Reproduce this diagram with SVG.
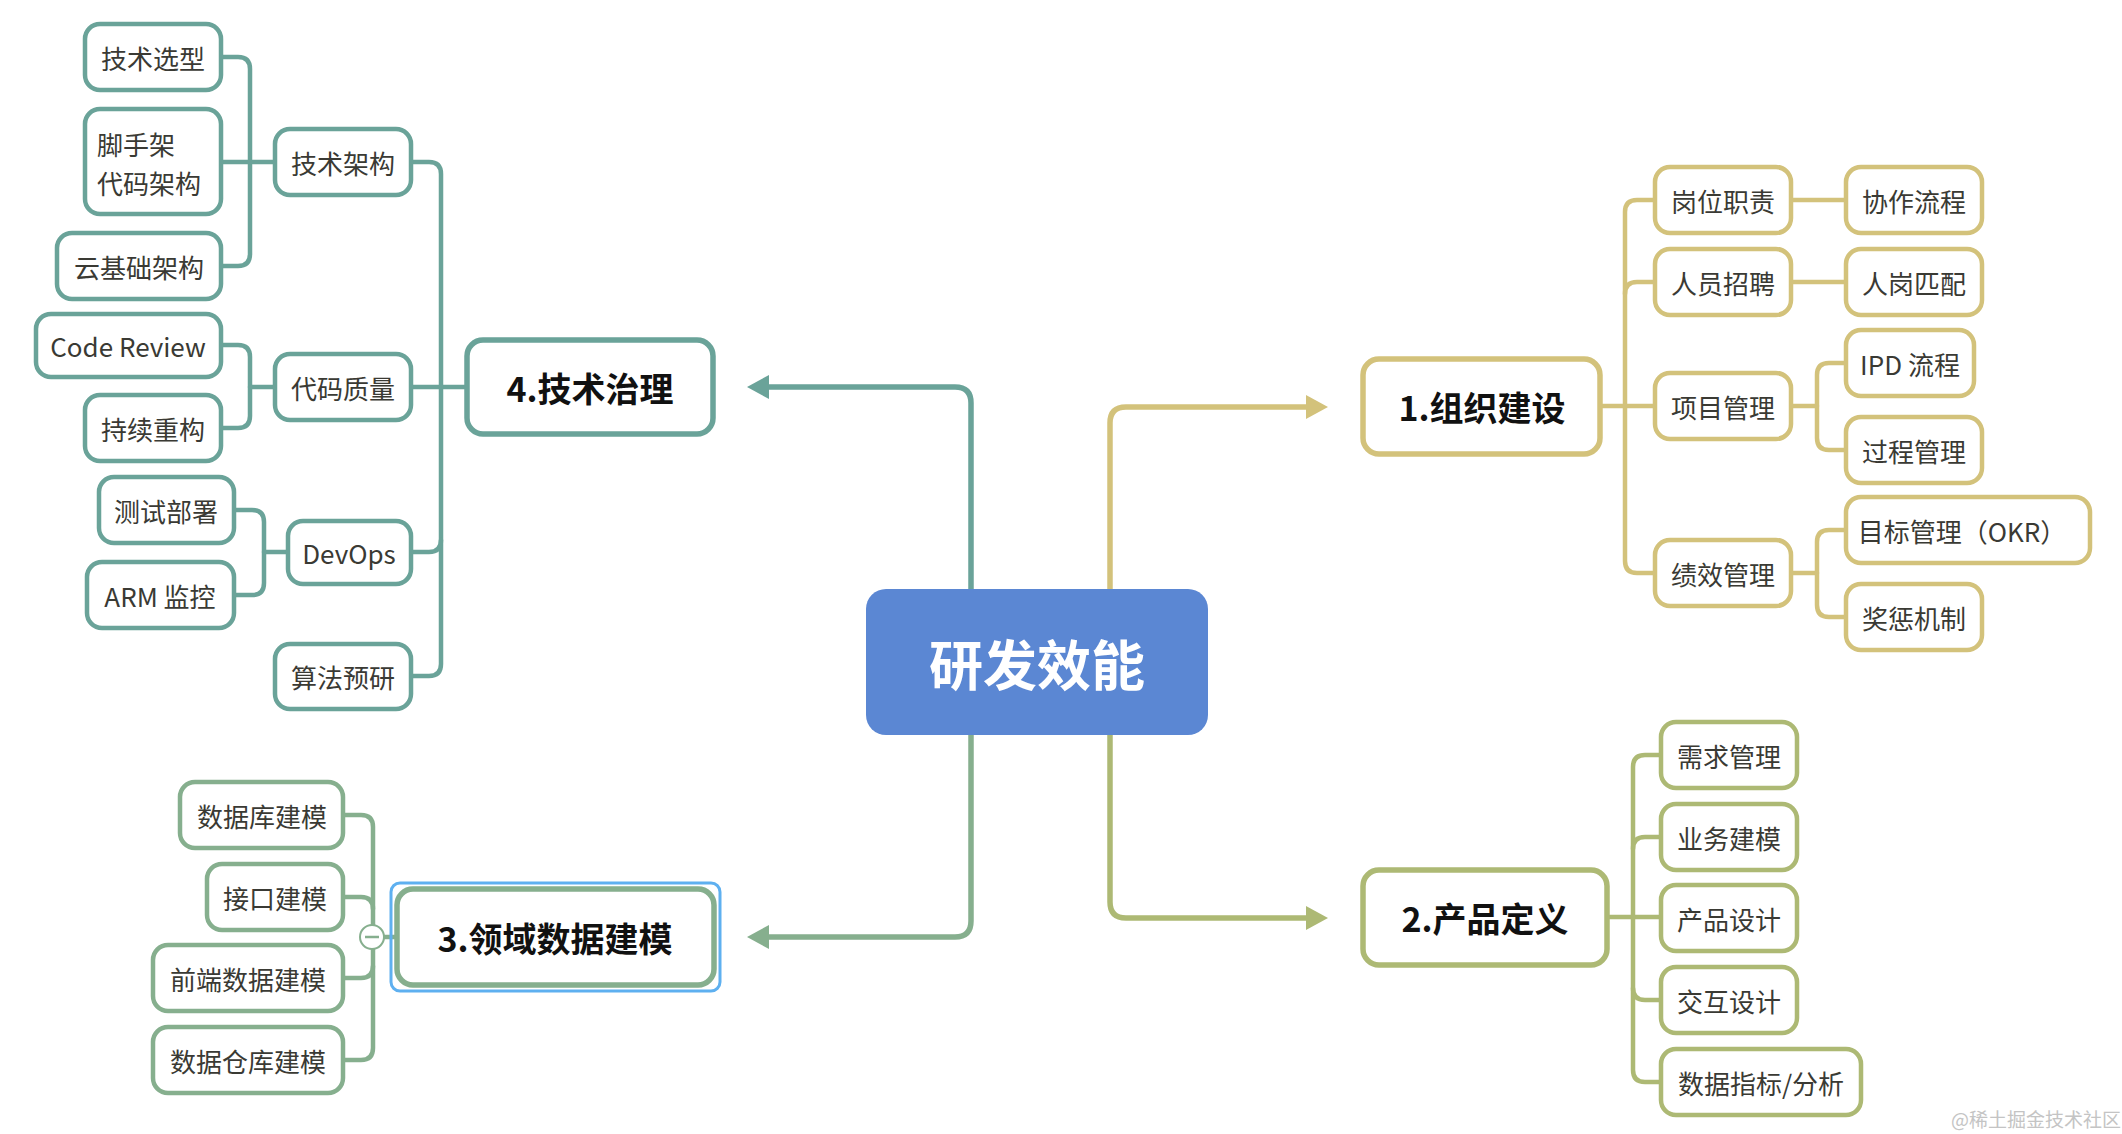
<svg xmlns="http://www.w3.org/2000/svg" width="2122" height="1134" viewBox="0 0 2122 1134">
<style>
text{font-family:"Noto Sans CJK SC","Noto Sans",sans-serif;text-anchor:middle;dominant-baseline:central}
.leaf{fill:#fff;stroke-width:4.5}
.leaf-t{font-size:26px;fill:#3a3a34}
.main{fill:#fff;stroke-width:5.5}
.main-t{font-size:34px;font-weight:bold;fill:#111}
.ln{fill:none;stroke-width:4.5;stroke-linecap:round}
.trunk{fill:none;stroke-width:5.5}
.teal{stroke:#6aa399}
.green{stroke:#86af8e}
.yellow{stroke:#d3c27b}
.olive{stroke:#adb974}
</style>
<defs>
<marker id="aTeal" markerUnits="userSpaceOnUse" markerWidth="24" markerHeight="26" refX="0" refY="12" orient="auto" viewBox="0 0 24 24"><path d="M0,0 L22,12 L0,24 z" fill="#6aa399"/></marker>
<marker id="aGreen" markerUnits="userSpaceOnUse" markerWidth="24" markerHeight="26" refX="0" refY="12" orient="auto" viewBox="0 0 24 24"><path d="M0,0 L22,12 L0,24 z" fill="#86af8e"/></marker>
<marker id="aYellow" markerUnits="userSpaceOnUse" markerWidth="24" markerHeight="26" refX="0" refY="12" orient="auto" viewBox="0 0 24 24"><path d="M0,0 L22,12 L0,24 z" fill="#d3c27b"/></marker>
<marker id="aOlive" markerUnits="userSpaceOnUse" markerWidth="24" markerHeight="26" refX="0" refY="12" orient="auto" viewBox="0 0 24 24"><path d="M0,0 L22,12 L0,24 z" fill="#adb974"/></marker>
</defs>
<rect width="2122" height="1134" fill="#fff"/>

<g id="connectors">
<!-- trunk -->
<path class="trunk teal" d="M971,589 V403 Q971,387 955,387 H769" marker-end="url(#aTeal)"/>
<path class="trunk green" d="M971,735 V921 Q971,937 955,937 H769" marker-end="url(#aGreen)"/>
<path class="trunk yellow" d="M1110,589 V423 Q1110,407 1126,407 H1306" marker-end="url(#aYellow)"/>
<path class="trunk olive" d="M1110,735 V902 Q1110,918 1126,918 H1306" marker-end="url(#aOlive)"/>
<!-- branch 4 -->
<path class="ln teal" d="M411,387 H467"/>
<path class="ln teal" d="M411,162 H429 Q441,162 441,174 V664 Q441,676 429,676 H411"/>
<path class="ln teal" d="M411,552 H429 Q441,552 441,540"/>
<path class="ln teal" d="M221,57 H238 Q250,57 250,69 V254 Q250,266 238,266 H221"/>
<path class="ln teal" d="M221,162 H275"/>
<path class="ln teal" d="M221,345 H238 Q250,345 250,357 V416 Q250,428 238,428 H221"/>
<path class="ln teal" d="M250,387 H275"/>
<path class="ln teal" d="M234,510 H252 Q264,510 264,522 V583 Q264,595 252,595 H234"/>
<path class="ln teal" d="M264,552 H288"/>
<!-- branch 3 -->
<path class="ln green" d="M343,815 H361 Q373,815 373,827 V1048 Q373,1060 361,1060 H343"/>
<path class="ln green" d="M343,897 H361 Q373,897 373,909"/>
<path class="ln green" d="M343,978 H361 Q373,978 373,966"/>
<path class="ln green" d="M384,937 H397"/>
<!-- branch 1 -->
<path class="ln yellow" d="M1600,406 H1655"/>
<path class="ln yellow" d="M1655,200 H1637 Q1625,200 1625,212 V561 Q1625,573 1637,573 H1655"/>
<path class="ln yellow" d="M1655,282 H1637 Q1625,282 1625,294"/>
<path class="ln yellow" d="M1791,200 H1846"/>
<path class="ln yellow" d="M1791,282 H1846"/>
<path class="ln yellow" d="M1791,406 H1817"/>
<path class="ln yellow" d="M1846,363 H1829 Q1817,363 1817,375 V438 Q1817,450 1829,450 H1846"/>
<path class="ln yellow" d="M1791,573 H1817"/>
<path class="ln yellow" d="M1846,530 H1829 Q1817,530 1817,542 V605 Q1817,617 1829,617 H1846"/>
<!-- branch 2 -->
<path class="ln olive" d="M1607,917 H1661"/>
<path class="ln olive" d="M1661,755 H1645 Q1633,755 1633,767 V1070 Q1633,1082 1645,1082 H1661"/>
<path class="ln olive" d="M1661,837 H1645 Q1633,837 1633,849"/>
<path class="ln olive" d="M1661,1000 H1645 Q1633,1000 1633,988"/>
</g>

<g id="root">
<rect x="866" y="589" width="342" height="146" rx="20" fill="#5b87d3"/>
<text x="1037" y="662" font-size="54" font-weight="bold" fill="#fff">研发效能</text>
</g>

<!-- Branch 4 -->
<g id="n4"><rect class="main teal" x="467" y="340" width="246" height="94" rx="16"/><text class="main-t" x="590" y="387">4.技术治理</text></g>
<g id="n4-1"><rect class="leaf teal" x="275" y="129" width="136" height="66" rx="15"/><text class="leaf-t" x="343" y="162">技术架构</text></g>
<g id="n4-1-1"><rect class="leaf teal" x="85" y="24" width="136" height="66" rx="15"/><text class="leaf-t" x="153" y="57">技术选型</text></g>
<g id="n4-1-2"><rect class="leaf teal" x="85" y="109" width="136" height="105" rx="15"/><text class="leaf-t" x="97" y="143" style="text-anchor:start">脚手架</text><text class="leaf-t" x="97" y="182" style="text-anchor:start">代码架构</text></g>
<g id="n4-1-3"><rect class="leaf teal" x="57" y="233" width="164" height="66" rx="15"/><text class="leaf-t" x="139" y="266">云基础架构</text></g>
<g id="n4-2"><rect class="leaf teal" x="275" y="354" width="136" height="66" rx="15"/><text class="leaf-t" x="343" y="387">代码质量</text></g>
<g id="n4-2-1"><rect class="leaf teal" x="36" y="314" width="185" height="63" rx="15"/><text class="leaf-t" x="128" y="345">Code Review</text></g>
<g id="n4-2-2"><rect class="leaf teal" x="85" y="395" width="136" height="66" rx="15"/><text class="leaf-t" x="153" y="428">持续重构</text></g>
<g id="n4-3"><rect class="leaf teal" x="288" y="521" width="123" height="63" rx="15"/><text class="leaf-t" x="349" y="552">DevOps</text></g>
<g id="n4-3-1"><rect class="leaf teal" x="99" y="477" width="135" height="66" rx="15"/><text class="leaf-t" x="166" y="510">测试部署</text></g>
<g id="n4-3-2"><rect class="leaf teal" x="87" y="562" width="147" height="66" rx="15"/><text class="leaf-t" x="160" y="595">ARM 监控</text></g>
<g id="n4-4"><rect class="leaf teal" x="275" y="644" width="136" height="65" rx="15"/><text class="leaf-t" x="343" y="676">算法预研</text></g>

<!-- Branch 3 -->
<g id="n3">
<rect x="391" y="883" width="329" height="108" rx="9" fill="none" stroke="#5eb0f0" stroke-width="3"/>
<rect class="main green" x="397" y="889" width="317" height="96" rx="16"/>
<text class="main-t" x="555" y="937">3.领域数据建模</text>
<circle cx="372" cy="937" r="12" fill="#fff" stroke="#86af8e" stroke-width="2"/>
<line x1="365" y1="937" x2="379" y2="937" stroke="#86af8e" stroke-width="2.5"/>
</g>
<g id="n3-1"><rect class="leaf green" x="180" y="782" width="163" height="66" rx="15"/><text class="leaf-t" x="262" y="815">数据库建模</text></g>
<g id="n3-2"><rect class="leaf green" x="207" y="864" width="136" height="66" rx="15"/><text class="leaf-t" x="275" y="897">接口建模</text></g>
<g id="n3-3"><rect class="leaf green" x="153" y="945" width="190" height="66" rx="15"/><text class="leaf-t" x="248" y="978">前端数据建模</text></g>
<g id="n3-4"><rect class="leaf green" x="153" y="1027" width="190" height="66" rx="15"/><text class="leaf-t" x="248" y="1060">数据仓库建模</text></g>

<!-- Branch 1 -->
<g id="n1"><rect class="main yellow" x="1363" y="359" width="237" height="95" rx="16"/><text class="main-t" x="1482" y="406">1.组织建设</text></g>
<g id="n1-1"><rect class="leaf yellow" x="1655" y="167" width="136" height="66" rx="15"/><text class="leaf-t" x="1723" y="200">岗位职责</text></g>
<g id="n1-1-1"><rect class="leaf yellow" x="1846" y="167" width="136" height="66" rx="15"/><text class="leaf-t" x="1914" y="200">协作流程</text></g>
<g id="n1-2"><rect class="leaf yellow" x="1655" y="249" width="136" height="66" rx="15"/><text class="leaf-t" x="1723" y="282">人员招聘</text></g>
<g id="n1-2-1"><rect class="leaf yellow" x="1846" y="249" width="136" height="66" rx="15"/><text class="leaf-t" x="1914" y="282">人岗匹配</text></g>
<g id="n1-3"><rect class="leaf yellow" x="1655" y="373" width="136" height="66" rx="15"/><text class="leaf-t" x="1723" y="406">项目管理</text></g>
<g id="n1-3-1"><rect class="leaf yellow" x="1846" y="330" width="128" height="66" rx="15"/><text class="leaf-t" x="1910" y="363">IPD 流程</text></g>
<g id="n1-3-2"><rect class="leaf yellow" x="1846" y="417" width="136" height="66" rx="15"/><text class="leaf-t" x="1914" y="450">过程管理</text></g>
<g id="n1-4"><rect class="leaf yellow" x="1655" y="540" width="136" height="66" rx="15"/><text class="leaf-t" x="1723" y="573">绩效管理</text></g>
<g id="n1-4-1"><rect class="leaf yellow" x="1846" y="497" width="244" height="66" rx="15"/><text class="leaf-t" x="1962" y="530">目标管理（OKR）</text></g>
<g id="n1-4-2"><rect class="leaf yellow" x="1846" y="584" width="136" height="66" rx="15"/><text class="leaf-t" x="1914" y="617">奖惩机制</text></g>

<!-- Branch 2 -->
<g id="n2"><rect class="main olive" x="1363" y="870" width="244" height="95" rx="16"/><text class="main-t" x="1485" y="917">2.产品定义</text></g>
<g id="n2-1"><rect class="leaf olive" x="1661" y="722" width="136" height="66" rx="15"/><text class="leaf-t" x="1729" y="755">需求管理</text></g>
<g id="n2-2"><rect class="leaf olive" x="1661" y="804" width="136" height="66" rx="15"/><text class="leaf-t" x="1729" y="837">业务建模</text></g>
<g id="n2-3"><rect class="leaf olive" x="1661" y="885" width="136" height="66" rx="15"/><text class="leaf-t" x="1729" y="918">产品设计</text></g>
<g id="n2-4"><rect class="leaf olive" x="1661" y="967" width="136" height="66" rx="15"/><text class="leaf-t" x="1729" y="1000">交互设计</text></g>
<g id="n2-5"><rect class="leaf olive" x="1661" y="1049" width="200" height="66" rx="15"/><text class="leaf-t" x="1761" y="1082">数据指标/分析</text></g>

<text x="2036" y="1118" font-size="19" fill="#c4c4c4">@稀土掘金技术社区</text>
</svg>
